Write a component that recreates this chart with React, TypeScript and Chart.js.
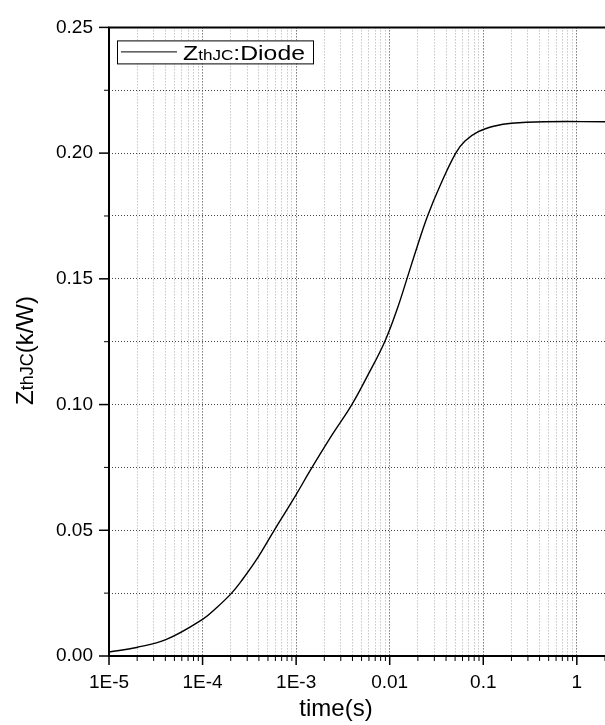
import React, { useEffect, useRef } from 'react';
import { Chart, registerables } from 'chart.js';

Chart.register(...registerables);

// time (s)
const times = [1e-5, 1.97e-5, 4.11e-5, 1e-4, 1.45e-4, 2.02e-4, 2.58e-4, 3.72e-4, 5.83e-4, 9.86e-4, 1.426e-3, 2.43e-3, 3.94e-3, 5.86e-3, 8.85e-3, 1.197e-2, 1.528e-2, 1.954e-2, 2.54e-2, 3.47e-2, 5.08e-2, 6.38e-2, 8.85e-2, 0.133, 0.2, 0.453, 2.0];
// ZthJC (k/W)
const zth = [0.0016, 0.0034, 0.0066, 0.0146, 0.0196, 0.0248, 0.0297, 0.038, 0.05, 0.0638, 0.074, 0.088, 0.1, 0.1118, 0.125, 0.1378, 0.15, 0.1625, 0.175, 0.1872, 0.2, 0.2048, 0.2085, 0.2108, 0.2119, 0.2125, 0.2125];

const xDecades = [1e-5, 1e-4, 1e-3, 0.01, 0.1, 1];
const xTickLabels = ['1E-5', '1E-4', '1E-3', '0.01', '0.1', '1'];
const yTickValues = [0, 0.05, 0.1, 0.15, 0.2, 0.25];
const yTickLabels = ['0.00', '0.05', '0.10', '0.15', '0.20', '0.25'];

const X_MIN = 1e-5;
const X_MAX = 2;
const FONT = "'Liberation Sans', Arial, sans-serif";

const decadeIndex = (v: number) =>
  xDecades.findIndex((d) => Math.abs(Math.log10(v) - Math.log10(d)) < 1e-6);
const yMajorIndex = (v: number) =>
  yTickValues.findIndex((d) => Math.abs(v - d) < 1e-6);

const decorPlugin = {
  id: 'decor',
  afterDraw(chart: any) {
    const { ctx, chartArea: a, scales } = chart;
    const xs = scales.x;
    const ys = scales.y;
    ctx.save();
    ctx.setLineDash([]);
    ctx.strokeStyle = '#000';
    ctx.fillStyle = '#000';
    // axis lines
    ctx.lineWidth = 2;
    ctx.beginPath();
    ctx.moveTo(a.left - 1, a.top);
    ctx.lineTo(a.right + 5, a.top);
    ctx.moveTo(a.left, a.top);
    ctx.lineTo(a.left, a.bottom + 1);
    ctx.moveTo(a.left - 1, a.bottom);
    ctx.lineTo(a.right + 5, a.bottom);
    ctx.stroke();
    // x tick marks
    xs.ticks.forEach((t: any) => {
      const px = xs.getPixelForValue(t.value);
      if (px > a.right + 0.5) return;
      const major = decadeIndex(t.value) >= 0;
      ctx.lineWidth = major ? 1.5 : 1;
      ctx.beginPath();
      ctx.moveTo(px, a.bottom);
      ctx.lineTo(px, a.bottom + (major ? 9 : 5));
      ctx.stroke();
    });
    // y tick marks
    ys.ticks.forEach((t: any) => {
      const py = ys.getPixelForValue(t.value);
      const major = yMajorIndex(t.value) >= 0;
      ctx.lineWidth = major ? 1.5 : 1;
      ctx.beginPath();
      ctx.moveTo(a.left, py);
      ctx.lineTo(a.left - (major ? 10 : 5), py);
      ctx.stroke();
    });

    // legend
    const lx = a.left + 8, ly = a.top + 13, lw = 196, lh = 23;
    ctx.fillStyle = '#fff';
    ctx.fillRect(lx, ly, lw, lh);
    ctx.lineWidth = 1;
    ctx.strokeStyle = '#000';
    ctx.strokeRect(lx + 0.5, ly + 0.5, lw, lh);
    ctx.beginPath();
    ctx.moveTo(lx + 4, ly + 11.5);
    ctx.lineTo(lx + 60, ly + 11.5);
    ctx.stroke();
    ctx.fillStyle = '#000';
    ctx.textBaseline = 'alphabetic';
    ctx.textAlign = 'left';
    ctx.save();
    ctx.translate(lx + 66, ly + 20);
    ctx.scale(1.18, 1);
    let tx = 0;
    const parts1: [string, number][] = [['Z', 21], ['thJC', 14.5], [':Diode', 21]];
    parts1.forEach(([s, f]) => {
      ctx.font = `${f}px ${FONT}`;
      ctx.fillText(s, tx, 0);
      tx += ctx.measureText(s).width;
    });
    ctx.restore();

    // y title (rotated)
    ctx.save();
    ctx.translate(33, a.bottom - 251);
    ctx.rotate(-Math.PI / 2);
    let ty = 0;
    const parts2: [string, number][] = [['Z', 24], ['thJC', 18], ['(k/W)', 24]];
    parts2.forEach(([s, f]) => {
      ctx.font = `${f}px ${FONT}`;
      ctx.fillText(s, ty, 0);
      ty += ctx.measureText(s).width;
    });
    ctx.restore();

    // x title
    ctx.font = `24px ${FONT}`;
    ctx.textAlign = 'center';
    ctx.fillText('time(s)', 336, 716);
    ctx.restore();
  },
};

export default function App() {
  const ref = useRef<HTMLCanvasElement>(null);
  useEffect(() => {
    if (!ref.current) return;
    const chart = new Chart(ref.current, {
      type: 'line',
      data: {
        datasets: [
          {
            label: 'ZthJC:Diode',
            data: times.map((t, i) => ({ x: t, y: zth[i] })),
            borderColor: '#000',
            borderWidth: 1.4,
            pointRadius: 0,
            fill: false,
            tension: 0.4,
          },
        ],
      },
      options: {
        animation: false,
        responsive: false,
        devicePixelRatio: 1,
        layout: { padding: { left: 0, right: 12, top: 16, bottom: 0 } },
        plugins: { legend: { display: false }, tooltip: { enabled: false } },
        scales: {
          x: {
            type: 'logarithmic',
            min: X_MIN,
            max: X_MAX,
            afterBuildTicks: (scale: any) => {
              const ticks: any[] = [];
              for (let e = -5; e <= 0; e++) {
                for (let m = 1; m <= 9; m++) {
                  const v = m * Math.pow(10, e);
                  if (v <= X_MAX) ticks.push({ value: v });
                }
              }
              scale.ticks = ticks;
            },
            afterFit: (scale: any) => {
              scale.height = 69;
            },
            ticks: {
              autoSkip: false,
              maxRotation: 0,
              padding: 15,
              color: '#000',
              font: { family: FONT, size: 19 },
              callback: (v: any) => {
                const i = decadeIndex(Number(v));
                return i >= 0 ? xTickLabels[i] : '';
              },
            },
            grid: {
              drawTicks: false,
              lineWidth: 1,
              color: (c: any) =>
                c.tick && decadeIndex(c.tick.value) >= 0 ? '#333' : '#aaaaaa',
            },
            border: { display: false, dash: [1, 2] },
          },
          y: {
            type: 'linear',
            min: 0,
            max: 0.25,
            afterBuildTicks: (scale: any) => {
              const ticks: any[] = [];
              for (let i = 0; i <= 10; i++) ticks.push({ value: i * 0.025 });
              scale.ticks = ticks;
            },
            afterFit: (scale: any) => {
              scale.width = 109;
            },
            ticks: {
              autoSkip: false,
              padding: 16,
              color: '#000',
              font: { family: FONT, size: 19 },
              callback: (v: any) => {
                const i = yMajorIndex(Number(v));
                return i >= 0 ? yTickLabels[i] : '';
              },
            },
            grid: {
              drawTicks: false,
              lineWidth: 1,
              color: '#444',
            },
            border: { display: false, dash: [1, 2] },
          },
        },
      } as any,
      plugins: [decorPlugin],
    });
    return () => chart.destroy();
  }, []);

  return (
    <div
      style={{
        position: 'fixed',
        left: 0,
        top: 0,
        width: 605,
        height: 725,
        overflow: 'hidden',
        background: '#fff',
      }}
    >
      <canvas ref={ref} width={620} height={725} style={{ width: 620, height: 725, display: 'block' }} />
    </div>
  );
}
